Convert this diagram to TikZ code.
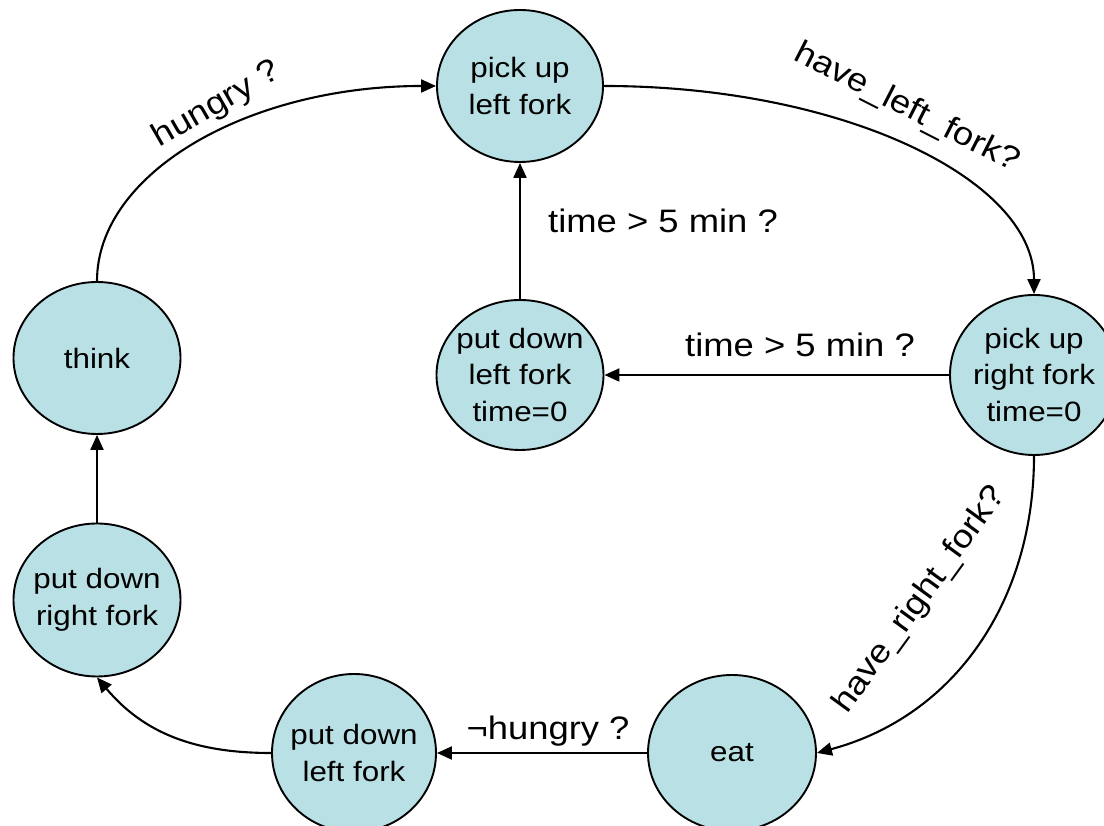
\documentclass[tikz,border=0pt]{standalone}
\usepackage{fontspec}
\setmainfont{Liberation Sans}
\newfontfamily\arialw[FakeStretch=1.12]{Liberation Sans}
\usetikzlibrary{shapes.geometric,arrows.meta}
\definecolor{statefill}{RGB}{185,224,228}
\begin{document}
\begin{tikzpicture}[x=1pt,y=1pt,
  state/.style={ellipse, draw=black, line width=1.9pt, fill=statefill, inner sep=0pt},
  stxt/.style={font=\arialw\fontsize{28}{36.5}\selectfont, align=center, text=black, inner sep=0pt},
  lab/.style={font=\arialw\fontsize{32.5}{36}\selectfont, inner sep=0pt, text=black},
  edge/.style={line width=2.1pt, -{Triangle[length=15pt,width=13pt]}}]
\useasboundingbox (0,0) rectangle (1104,826);
\fill[white] (0,0) rectangle (1104,826);

\node[state, minimum width=166pt, minimum height=152pt,
  label={[stxt]center:pick up\\left fork}] (plf) at (520,740) {};
\node[state, minimum width=167pt, minimum height=152pt,
  label={[stxt]center:think}] (think) at (97,468) {};
\node[state, minimum width=167pt, minimum height=153pt,
  label={[stxt]center:put down\\right fork}] (pdrf) at (97,226) {};
\node[state, minimum width=167pt, minimum height=150pt,
  label={[stxt]center:put down\\left fork\\time=0}] (pdlfz) at (520,451) {};
\node[state, minimum width=168pt, minimum height=160pt,
  label={[stxt]center:pick up\\right fork\\time=0}] (prf) at (1034,451) {};
\node[state, minimum width=164pt, minimum height=158pt,
  label={[stxt]center:put down\\left fork}] (pdlf) at (354,73) {};
\node[state, minimum width=168pt, minimum height=156pt,
  label={[stxt]center:eat}] (eat) at (732,73) {};

\draw[edge] (think.north) .. controls +(0,108) and +(-188,0) .. (plf.west);
\draw[edge] (plf.east) .. controls +(238,0) and +(0,115) .. (prf.north);
\draw[edge] (prf.south) to[out=-90,in=15] (eat.east);
\draw[edge] (pdlf.west) to[out=180,in=-50] (pdrf.south);
\draw[edge] (pdlfz.north) -- (plf.south);
\draw[edge] (prf.west) -- (pdlfz.east);
\draw[edge] (pdrf.north) -- (think.south);
\draw[edge] (eat.west) -- (pdlf.east);

\node[lab, rotate=30] (l1) at (217,721) {hungry ?};
\node[lab, rotate=-27] (l2) at (907,718) {have\_left\_fork?};
\node[lab, anchor=base] (l3) at (663,593) {time > 5 min ?};
\node[lab, anchor=base] (l4) at (800,469) {time > 5 min ?};
\node[lab, rotate=54] (l5) at (920,226) {have\_right\_fork?};
\node[lab, anchor=base] (l6) at (548,86) {¬hungry ?};
\end{tikzpicture}
\end{document}
